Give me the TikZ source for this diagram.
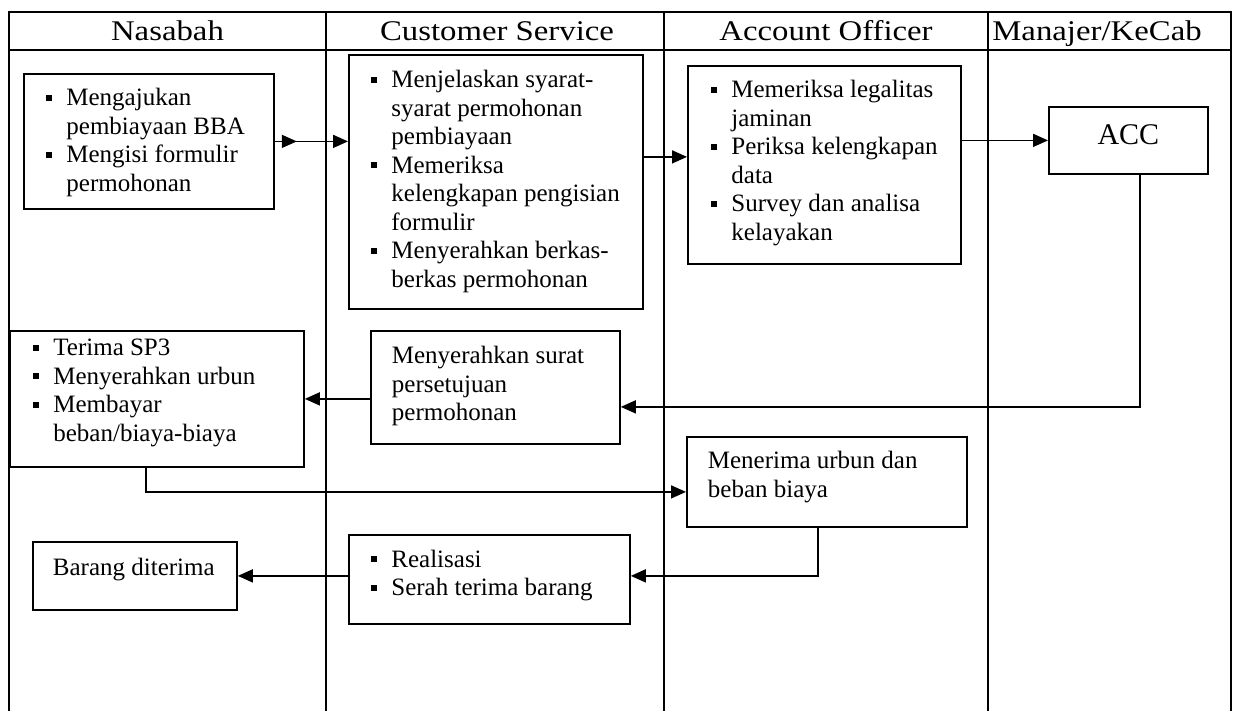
\documentclass[tikz,border=0pt]{standalone}
\usepackage{fontspec}
\setmainfont{Liberation Serif}
\newfontfamily\headfont[FakeStretch=1.15]{Liberation Serif}
\usetikzlibrary{arrows.meta,decorations.markings}

% body text of the process boxes
\newcommand\bodysize{\fontsize{25pt}{28.5pt}\selectfont}
\newcommand\sqbullet{\raisebox{5pt}{\rule{6pt}{6pt}}}
% bulleted item with hanging indent
\newcommand\itm[1]{\par\hangindent=20.5pt\hangafter=1\noindent\rule{0pt}{20pt}\makebox[20.5pt][l]{\sqbullet}#1\par}
% plain paragraph
\newcommand\plain[1]{\par\noindent\rule{0pt}{20pt}#1\par}
% box content: width, height, left padding, first baseline, body
\newcommand\cell[5]{\parbox[c][#2][t]{#1}{\bodysize\parindent=0pt\leftskip=#3\rightskip=0pt plus 1fil\hyphenpenalty=10000
  \vspace*{\dimexpr#4-20pt\relax}#5}}

\tikzset{
  grid/.style={line width=2.2pt, line cap=rect},
  box/.style={draw, line width=1.8pt, inner sep=0pt, anchor=north west},
  head/.style={font=\headfont\fontsize{28.5pt}{32pt}\selectfont, inner sep=0pt, anchor=base},
  tip/.style={-{Triangle[length=15pt,width=13pt]}},
  arr/.style={line width=1.6pt, tip},
}

\begin{document}
\begin{tikzpicture}[x=1pt,y=-1pt]
\useasboundingbox (0,0) rectangle (1233,711);

% swimlane frame
\draw[grid] (9,711) -- (9,12) -- (1231,12) -- (1231,711);
\draw[grid] (9,50) -- (1231,50);
\foreach \lx in {326,664,988} \draw[grid] (\lx,12) -- (\lx,711);

% lane titles
\node[head] (hN) at (167.5,41) {Nasabah};
\node[head] (hC) at (497,41) {Customer Service};
\node[head] (hA) at (826,41) {Account Officer};
\node[head] (hM) at (1097,41) {Manajer/KeCab};

% process boxes
\node[box] (A) at (23,73) {\cell{250pt}{135pt}{22pt}{32pt}{%
  \itm{Mengajukan\newline pembiayaan BBA}%
  \itm{Mengisi formulir\newline permohonan}}};

\node[box] (B) at (348,54) {\cell{294pt}{254pt}{22pt}{33pt}{%
  \itm{Menjelaskan syarat-\newline syarat permohonan\newline pembiayaan}%
  \itm{Memeriksa\newline kelengkapan pengisian\newline formulir}%
  \itm{Menyerahkan berkas-\newline berkas permohonan}}};

\node[box] (C) at (687,65) {\cell{273pt}{198pt}{23pt}{32pt}{%
  \itm{Memeriksa legalitas\newline jaminan}%
  \itm{Periksa kelengkapan\newline data}%
  \itm{Survey dan analisa\newline kelayakan}}};

\node[box] (ACC) at (1048,106) {\parbox[c][67pt][t]{159pt}{\centering\fontsize{30pt}{34pt}\selectfont
  \vspace*{16pt}\rule{0pt}{22pt}ACC}};

\node[box] (D) at (9,330) {\cell{294pt}{136pt}{23pt}{25pt}{%
  \itm{Terima SP3}%
  \itm{Menyerahkan urbun}%
  \itm{Membayar\newline beban/biaya-biaya}}};

\node[box] (E) at (370,330) {\cell{249pt}{113pt}{21pt}{33pt}{%
  \plain{Menyerahkan surat\newline persetujuan\newline permohonan}}};

\node[box] (F) at (686,436) {\cell{280pt}{90pt}{21pt}{32pt}{%
  \plain{Menerima urbun dan\newline beban biaya}}};

\node[box] (G) at (348,534) {\cell{281pt}{89pt}{22pt}{32.5pt}{%
  \itm{Realisasi}%
  \itm{Serah terima barang}}};

\node[box] (H) at (32,541) {\cell{204pt}{68pt}{20pt}{34pt}{%
  \plain{Barang diterima}}};

% flow
\draw[arr, postaction={decorate}, decoration={markings,
  mark=at position 22pt with {\arrow{Triangle[length=15pt,width=13pt]}}}]
  (A.east) -- (A.east -| B.west);
\coordinate (cIn) at ([yshift=8pt]C.west);
\draw[arr] (cIn -| B.east) -- (cIn);
\draw[arr] (ACC.west -| C.east) -- (ACC.west);
\draw[arr] ([xshift=11.5pt]ACC.south) |- ([yshift=-19.5pt]E.east);
\draw[arr] (D.east -| E.west) -- (D.east);
\draw[arr] ([xshift=-11pt]D.south) |- ([yshift=-10pt]F.west);
\draw[arr] ([xshift=-9pt]F.south) |- ([yshift=3.5pt]G.east);
\draw[arr] (H.east -| G.west) -- (H.east);
\end{tikzpicture}
\end{document}
